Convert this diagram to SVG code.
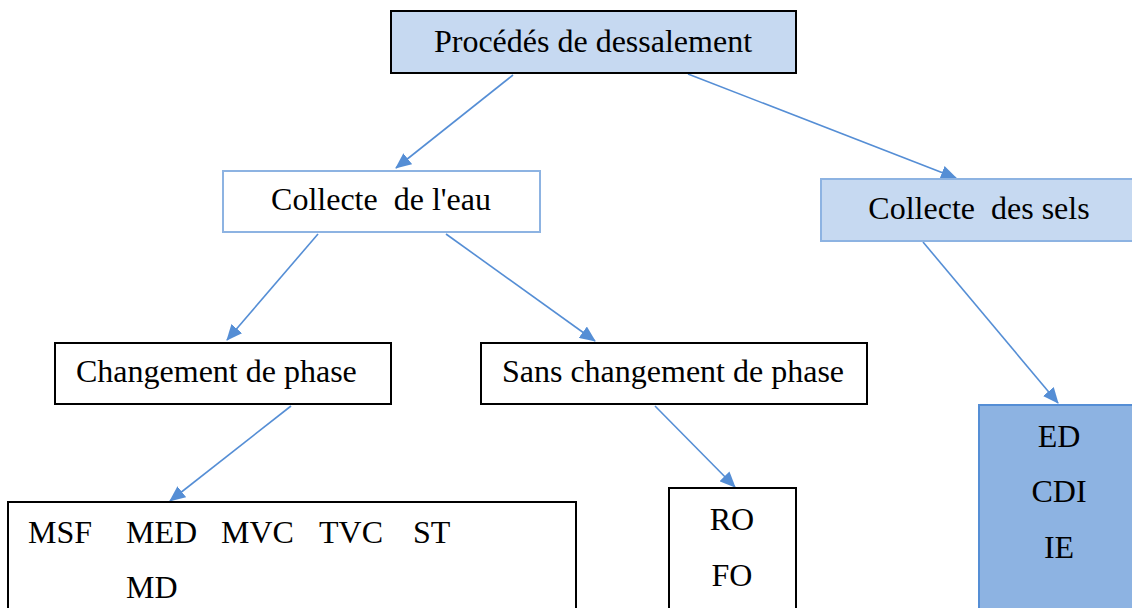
<svg xmlns="http://www.w3.org/2000/svg" width="1132" height="608" viewBox="0 0 1132 608">
<style>
text{font-family:'Liberation Serif','Times New Roman',serif;font-size:32px;fill:#000}
.b{stroke:#000;stroke-width:2}
.l{stroke:#8db3e2;stroke-width:2}
.c{stroke:#558ed5;stroke-width:1.6;fill:none;marker-end:url(#ah)}
</style>
<defs>
<marker id="ah" markerUnits="userSpaceOnUse" markerWidth="16" markerHeight="14" refX="15" refY="7" orient="auto">
<path d="M0,0 L16,7 L0,14 Z" fill="#558ed5"/>
</marker>
</defs>
<rect width="1132" height="608" fill="#fff"/>
<g id="connectors">
<line class="c" x1="513" y1="75" x2="396" y2="168"/>
<line class="c" x1="688" y1="74" x2="956" y2="178"/>
<line class="c" x1="318" y1="234" x2="227" y2="340"/>
<line class="c" x1="446" y1="234" x2="595" y2="341"/>
<line class="c" x1="291" y1="406" x2="170" y2="501"/>
<line class="c" x1="655" y1="406" x2="735" y2="487"/>
<line class="c" x1="923" y1="242" x2="1058" y2="403"/>
</g>
<g id="root">
<rect class="b" x="391" y="11" width="405" height="62" fill="#c6d9f1"/>
<text x="593" y="52" text-anchor="middle">Procédés de dessalement</text>
</g>
<g id="eau">
<rect class="l" x="223" y="171" width="317" height="61" fill="#fff"/>
<text x="381" y="210" text-anchor="middle" xml:space="preserve">Collecte  de l'eau</text>
</g>
<g id="sels">
<rect class="l" x="821" y="179" width="320" height="62" fill="#c6d9f1"/>
<text x="979" y="219" text-anchor="middle" xml:space="preserve">Collecte  des sels</text>
</g>
<g id="changement">
<rect class="b" x="55" y="343" width="336" height="61" fill="#fff"/>
<text x="76" y="382">Changement de phase</text>
</g>
<g id="sans">
<rect class="b" x="481" y="343" width="386" height="61" fill="#fff"/>
<text x="673" y="382" text-anchor="middle">Sans changement de phase</text>
</g>
<g id="thermiques">
<rect class="b" x="8" y="502" width="568" height="110" fill="#fff"/>
<text x="28" y="543">MSF</text>
<text x="126" y="543">MED</text>
<text x="221" y="543">MVC</text>
<text x="319" y="543">TVC</text>
<text x="413" y="543">ST</text>
<text x="126" y="598">MD</text>
</g>
<g id="membranes">
<rect class="b" x="669" y="488" width="127" height="124" fill="#fff"/>
<text x="732" y="530" text-anchor="middle">RO</text>
<text x="732" y="586" text-anchor="middle">FO</text>
</g>
<g id="sels-procedes">
<rect x="979" y="405" width="160" height="210" fill="#8db3e2" stroke="#558ed5" stroke-width="2"/>
<text x="1059" y="447" text-anchor="middle">ED</text>
<text x="1059" y="502" text-anchor="middle">CDI</text>
<text x="1059" y="558" text-anchor="middle">IE</text>
</g>
</svg>
